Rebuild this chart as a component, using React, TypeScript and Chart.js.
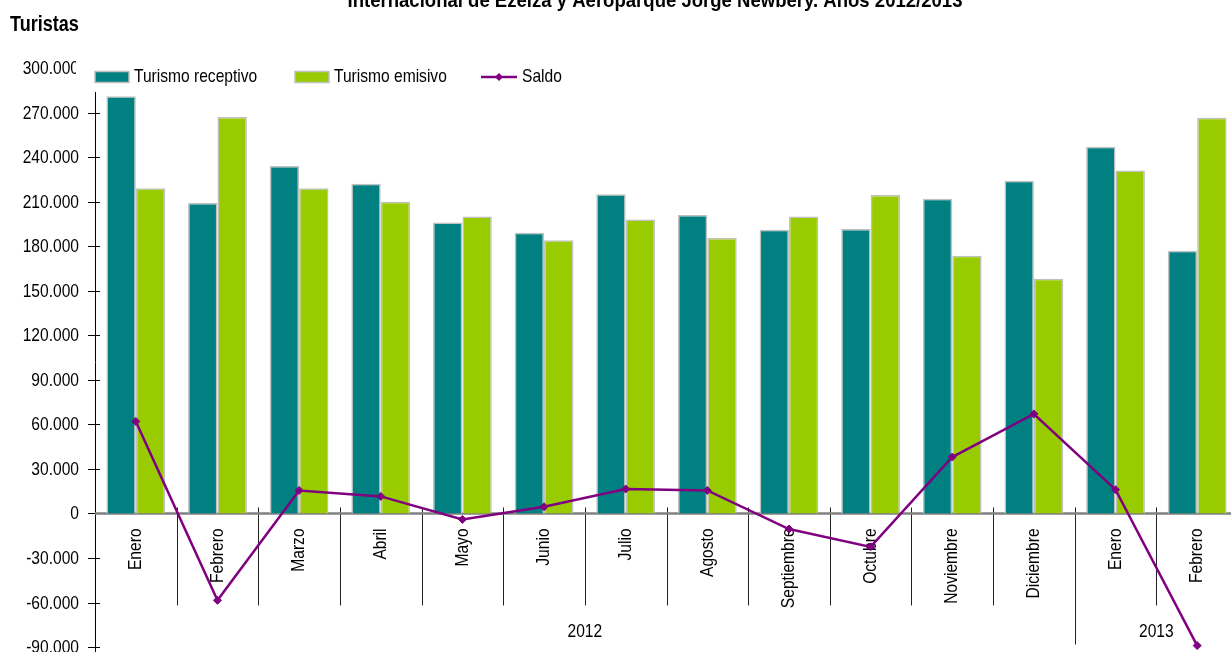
import React, { useEffect, useRef } from 'react';
import { Chart, registerables } from 'chart.js';

Chart.register(...registerables);

const months = ['Enero', 'Febrero', 'Marzo', 'Abril', 'Mayo', 'Junio', 'Julio', 'Agosto', 'Septiembre', 'Octubre', 'Noviembre', 'Diciembre', 'Enero', 'Febrero'];
const yearLabels = ['2012', '2013'];
const yearStarts = [0, 12];

const receptivo = [281000, 209000, 234000, 222000, 196000, 189000, 215000, 201000, 191000, 191500, 212000, 224000, 247000, 177000];
const emisivo = [219000, 267000, 219000, 210000, 200000, 184000, 198000, 185500, 200000, 214500, 173500, 158000, 231000, 266500];
const saldo = [62000, -58500, 15500, 11500, -4000, 4500, 16500, 15500, -10500, -22500, 38000, 67000, 16000, -89000];

const yTicks = [-90000, -60000, -30000, 0, 30000, 60000, 90000, 120000, 150000, 180000, 210000, 240000, 270000, 300000];

const seriesNames = ['Turismo receptivo', 'Turismo emisivo', 'Saldo'];
const titleText = 'Internacional de Ezeiza y Aeroparque Jorge Newbery. Años 2012/2013';
const yTitle = 'Turistas';

const FONT = "'Liberation Sans', Arial, 'DejaVu Sans', sans-serif";
const NARROW = 0.82;
const TEAL = '#008080';
const GREEN = '#99cc00';
const PURPLE = '#800080';
const BORDER = '#c0c0c0';

const fmt = (v: number) => {
  const s = String(Math.abs(Math.round(v))).replace(/\B(?=(\d{3})+(?!\d))/g, '.');
  return (v < 0 ? '-' : '') + s;
};

function drawText(
  ctx: CanvasRenderingContext2D,
  s: string,
  x: number,
  y: number,
  opts: { size?: number; bold?: boolean; align?: CanvasTextAlign; baseline?: CanvasTextBaseline; rot?: number; sx?: number } = {}
) {
  const { size = 19, bold = false, align = 'left', baseline = 'middle', rot = 0, sx = NARROW } = opts;
  ctx.save();
  ctx.translate(x, y);
  if (rot) ctx.rotate(rot);
  ctx.scale(sx, 1);
  ctx.font = `${bold ? 'bold ' : ''}${size}px ${FONT}`;
  ctx.textAlign = align;
  ctx.textBaseline = baseline;
  ctx.fillStyle = '#000';
  ctx.fillText(s, 0, 0);
  ctx.restore();
}

const decor = {
  id: 'decor',
  beforeDatasetsDraw(chart: any) {
    const { ctx, chartArea, scales } = chart;
    const x = scales.x;
    const y = scales.y;
    const y0 = y.getPixelForValue(0);
    const half = (x.getPixelForValue(1) - x.getPixelForValue(0)) / 2;
    ctx.save();
    // category separators
    ctx.strokeStyle = '#222';
    ctx.lineWidth = 1;
    for (let i = 1; i < months.length; i++) {
      const bx = Math.round(x.getPixelForValue(i) - half) + 0.5;
      const isYear = yearStarts.includes(i);
      ctx.beginPath();
      ctx.moveTo(bx, y0 - 6);
      ctx.lineTo(bx, isYear ? y0 + 131 : y0 + 92);
      ctx.stroke();
    }
    // y tick marks and labels
    ctx.strokeStyle = '#000';
    y.ticks.forEach((t: any) => {
      const py = Math.round(y.getPixelForValue(t.value)) + 0.5;
      ctx.beginPath();
      ctx.moveTo(chartArea.left - 7, py);
      ctx.lineTo(chartArea.left + 5, py);
      ctx.stroke();
      drawText(ctx, fmt(t.value), chartArea.left - 16, py, { align: 'right' });
    });
    // zero line
    ctx.strokeStyle = '#808080';
    ctx.lineWidth = 2.5;
    ctx.beginPath();
    ctx.moveTo(chartArea.left, y0);
    ctx.lineTo(chartArea.right, y0);
    ctx.stroke();
    // month labels
    months.forEach((m, i) => {
      drawText(ctx, m, x.getPixelForValue(i), y0 + 15, { align: 'right', rot: -Math.PI / 2 });
    });
    // year labels
    yearLabels.forEach((lab, k) => {
      const from = yearStarts[k];
      const to = k + 1 < yearStarts.length ? yearStarts[k + 1] - 1 : months.length - 1;
      const cx = (x.getPixelForValue(from) - half + x.getPixelForValue(to) + half) / 2;
      drawText(ctx, lab, cx, y0 + 118, { align: 'center' });
    });
    ctx.restore();
  },
  afterDraw(chart: any) {
    const { ctx } = chart;
    const ds = chart.data.datasets;
    ctx.save();
    // white legend background
    ctx.fillStyle = '#fff';
    ctx.fillRect(76, 58, 1300, 34);
    // legend
    const ly = 77;
    const boxes = [
      { x: 95, tx: 134, color: ds[0].backgroundColor, label: seriesNames[0] },
      { x: 295, tx: 334, color: ds[1].backgroundColor, label: seriesNames[1] },
    ];
    boxes.forEach((b) => {
      ctx.fillStyle = b.color;
      ctx.fillRect(b.x, ly - 5.5, 34, 11);
      ctx.strokeStyle = BORDER;
      ctx.lineWidth = 1.5;
      ctx.strokeRect(b.x, ly - 5.5, 34, 11);
      drawText(ctx, b.label, b.tx, ly);
    });
    ctx.strokeStyle = ds[2].borderColor;
    ctx.lineWidth = 2.5;
    ctx.beginPath();
    ctx.moveTo(481, ly);
    ctx.lineTo(517, ly);
    ctx.stroke();
    ctx.fillStyle = ds[2].borderColor;
    ctx.beginPath();
    ctx.moveTo(499, ly - 4);
    ctx.lineTo(503, ly);
    ctx.lineTo(499, ly + 4);
    ctx.lineTo(495, ly);
    ctx.closePath();
    ctx.fill();
    drawText(ctx, seriesNames[2], 522, ly);
    // y title
    drawText(ctx, yTitle, 10, 31, { size: 22, bold: true, baseline: 'alphabetic' });
    // main title (clipped at top)
    ctx.font = `bold 21px ${FONT}`;
    const w = ctx.measureText(titleText).width;
    drawText(ctx, titleText, 655, 7.3, { size: 21, bold: true, align: 'center', baseline: 'alphabetic', sx: 615 / w });
    ctx.restore();
  },
};

export default function App() {
  const ref = useRef<HTMLCanvasElement>(null);
  useEffect(() => {
    const chart = new Chart(ref.current as HTMLCanvasElement, {
      type: 'bar',
      data: {
        labels: months,
        datasets: [
          {
            type: 'bar',
            label: seriesNames[0],
            data: receptivo,
            backgroundColor: TEAL,
            borderColor: BORDER,
            borderWidth: 1.5,
            categoryPercentage: 0.72,
            barPercentage: 1,
            order: 1,
          },
          {
            type: 'bar',
            label: seriesNames[1],
            data: emisivo,
            backgroundColor: GREEN,
            borderColor: BORDER,
            borderWidth: 1.5,
            categoryPercentage: 0.72,
            barPercentage: 1,
            order: 1,
          },
          {
            type: 'line',
            label: seriesNames[2],
            data: saldo,
            borderColor: PURPLE,
            backgroundColor: PURPLE,
            borderWidth: 2.5,
            pointStyle: 'rectRot',
            pointRadius: 4,
            pointBackgroundColor: PURPLE,
            pointBorderColor: PURPLE,
            pointBorderWidth: 1,
            tension: 0,
            order: 0,
          } as any,
        ],
      },
      options: {
        responsive: false,
        animation: false,
        layout: { padding: { left: 0, top: 68, right: 7, bottom: 0 } },
        plugins: {
          legend: { display: false },
          title: { display: false },
          tooltip: { enabled: false },
        },
        scales: {
          x: {
            type: 'category',
            display: false,
            offset: true,
            grid: { display: false },
          },
          y: {
            type: 'linear',
            min: -96000,
            max: 300000,
            afterBuildTicks: (s: any) => {
              s.ticks = yTicks.map((v) => ({ value: v }));
            },
            afterFit: (s: any) => {
              s.width = 95;
            },
            ticks: { display: false },
            grid: { display: false, drawTicks: false },
            border: { display: true, color: '#000', width: 1 },
          },
        },
      },
      plugins: [decor],
    } as any);
    return () => chart.destroy();
  }, []);
  return (
    <div style={{ position: 'fixed', left: 0, top: 0, width: 1231, height: 652, overflow: 'hidden', background: '#fff' }}>
      <canvas ref={ref} width={1245} height={661} style={{ display: 'block' }} />
    </div>
  );
}
